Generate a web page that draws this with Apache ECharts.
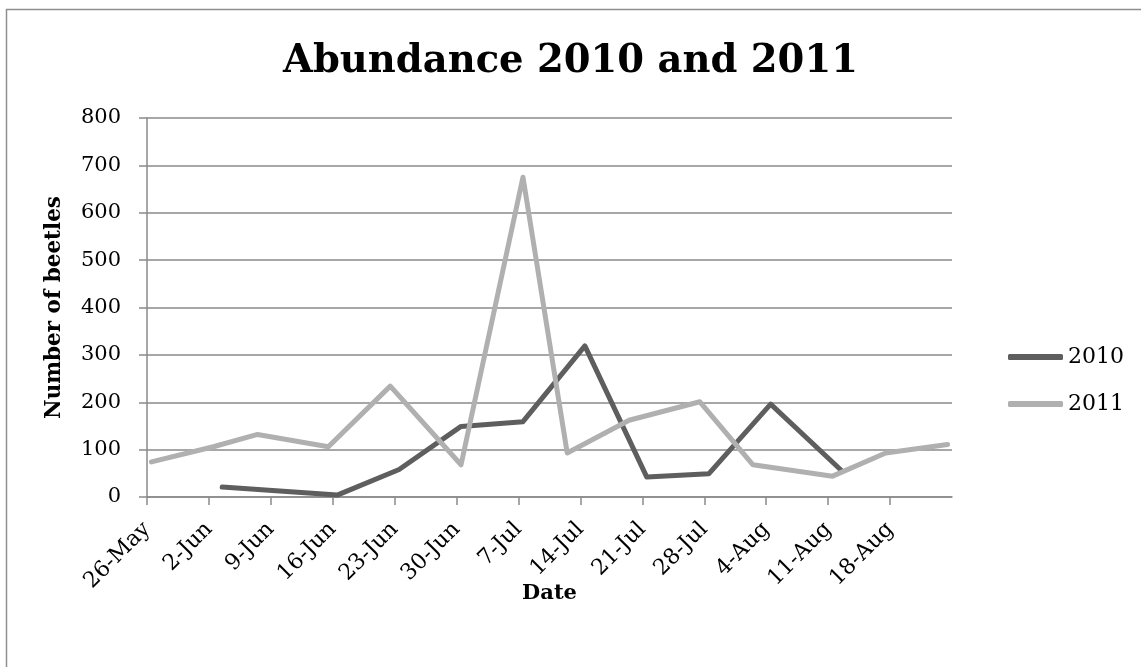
<!DOCTYPE html>
<html>
<head>
<meta charset="utf-8">
<script src="https://cdn.jsdelivr.net/npm/echarts@6/dist/echarts.min.js"></script>
<style>
  html, body { margin: 0; padding: 0; background: #fff; }
  #chart { width: 1141px; height: 667px; }
</style>
</head>
<body>
<div id="chart"></div>
<script>
// Sampling dates (month-day) and beetle counts per season
const dates2010 = ['06-03', '06-16', '06-23', '06-30', '07-07', '07-14', '07-21', '07-28', '08-04', '08-12'];
const counts2010 = [21, 4, 58, 149, 159, 319, 42, 49, 196, 56];

const dates2011 = ['05-26', '06-02', '06-07', '06-15', '06-22', '06-30', '07-07', '07-12', '07-19', '07-27', '08-02', '08-11', '08-17', '08-24'];
const counts2011 = [74, 106, 132, 106, 234, 68, 675, 93, 162, 201, 68, 44, 93, 111];

const seriesNames = ['2010', '2011'];
const yTicks = [0, 100, 200, 300, 400, 500, 600, 700, 800];

// Both seasons share one May–August calendar axis
const DAY = 86400000;
const axisStart = Date.UTC(2011, 4, 26);   // 26-May
const axisEnd = axisStart + 91 * DAY;      // 25-Aug
const MONTHS = ['Jan','Feb','Mar','Apr','May','Jun','Jul','Aug','Sep','Oct','Nov','Dec'];

// Each sample sits in the middle of its day slot
function toX(md) {
  const [m, d] = md.split('-').map(Number);
  return Date.UTC(2011, m - 1, d) + DAY / 2;
}
function pairs(dates, vals) {
  return dates.map((d, i) => [toX(d), vals[i]]);
}

const FONT = 'DejaVu Serif';
const GRID_COLOR = '#8a8a8a';

const chart = echarts.init(document.getElementById('chart'), null, { renderer: 'canvas' });
chart.setOption({
  backgroundColor: '#ffffff',
  animation: false,
  title: {
    text: 'Abundance 2010 and 2011',
    left: 'center',
    top: 37,
    textStyle: { fontFamily: FONT, fontWeight: 'bold', fontSize: 38.5, color: '#000' }
  },
  // chart-area frame
  graphic: [{
    type: 'rect',
    shape: { x: 6.5, y: 9.5, width: 1300, height: 800 },
    style: { fill: 'none', stroke: '#8f8f8f', lineWidth: 1.5 },
    silent: true
  }],
  legend: {
    orient: 'vertical',
    left: 1008,
    top: 346,
    padding: 0,
    itemWidth: 55,
    itemHeight: 6,
    itemGap: 25,
    icon: 'roundRect',
    data: seriesNames,
    textStyle: { fontFamily: FONT, fontSize: 22, color: '#000' }
  },
  grid: { left: 147, right: 189, top: 118, bottom: 170, containLabel: false },
  xAxis: {
    type: 'value',
    min: axisStart,
    max: axisEnd,
    interval: 7 * DAY,
    name: 'Date',
    nameLocation: 'middle',
    nameGap: 86,
    nameMoveOverlap: false,
    nameTextStyle: { fontFamily: FONT, fontWeight: 'bold', fontSize: 21, color: '#000' },
    axisLine: { show: true, lineStyle: { color: GRID_COLOR, width: 1.5 } },
    axisTick: { show: true, inside: false, length: 8, lineStyle: { color: GRID_COLOR, width: 1.5 } },
    splitLine: { show: false },
    axisLabel: {
      rotate: 45,
      margin: 29,
      showMaxLabel: false,
      fontFamily: FONT,
      fontSize: 22,
      color: '#000',
      formatter: function (v) {
        const d = new Date(v);
        return d.getUTCDate() + '-' + MONTHS[d.getUTCMonth()];
      }
    }
  },
  yAxis: {
    type: 'value',
    min: yTicks[0],
    max: yTicks[yTicks.length - 1],
    interval: 100,
    name: 'Number of beetles',
    nameLocation: 'middle',
    nameGap: 82,
    nameMoveOverlap: false,
    nameTextStyle: { fontFamily: FONT, fontWeight: 'bold', fontSize: 21.5, color: '#000' },
    axisLine: { show: true, lineStyle: { color: GRID_COLOR, width: 1.5 } },
    axisTick: { show: true, inside: false, length: 8, lineStyle: { color: GRID_COLOR, width: 1.5 } },
    splitLine: { show: true, lineStyle: { color: GRID_COLOR, width: 1.5 } },
    axisLabel: {
      margin: 26,
      fontFamily: FONT,
      fontSize: 21,
      color: '#000',
      formatter: function (v) { return yTicks.indexOf(v) >= 0 ? String(v) : ''; }
    }
  },
  series: [
    {
      name: seriesNames[0],
      type: 'line',
      data: pairs(dates2010, counts2010),
      showSymbol: false,
      symbol: 'none',
      color: '#5e5e5e',
      lineStyle: { width: 5, color: '#5e5e5e', cap: 'round', join: 'round' },
      z: 3
    },
    {
      name: seriesNames[1],
      type: 'line',
      data: pairs(dates2011, counts2011),
      showSymbol: false,
      symbol: 'none',
      color: '#b0b0b0',
      lineStyle: { width: 5, color: '#b0b0b0', cap: 'round', join: 'round' },
      z: 4
    }
  ]
});
</script>
</body>
</html>
